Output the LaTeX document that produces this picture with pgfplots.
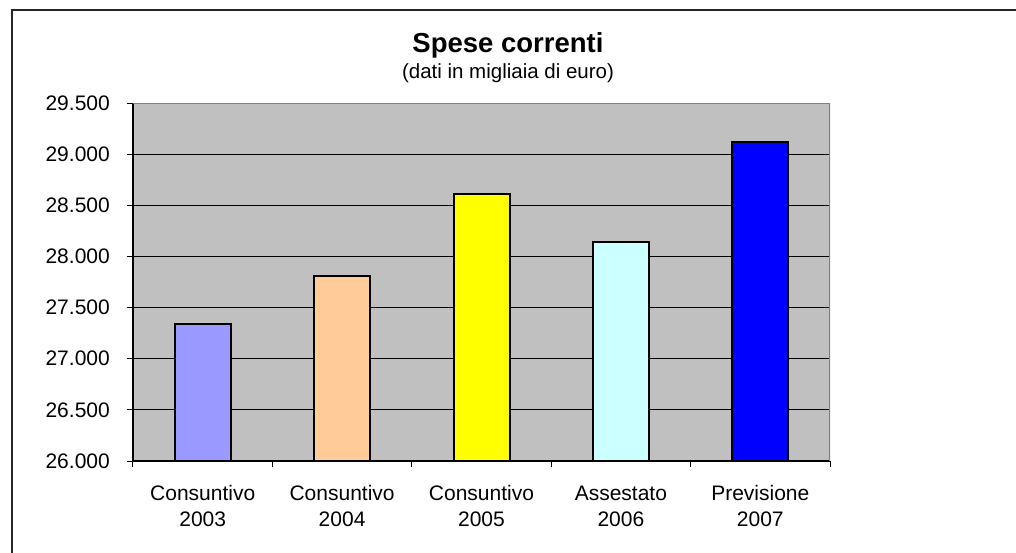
\documentclass[border=0pt]{standalone}
\usepackage{pgfplots}
\pgfplotsset{compat=1.18}
\usepackage{fontspec}
\setmainfont{Liberation Sans}
\definecolor{bgray}{RGB}{192,192,192}
\definecolor{bordergray}{RGB}{128,128,128}
\definecolor{barA}{RGB}{153,153,255}
\definecolor{barB}{RGB}{255,204,153}
\definecolor{barC}{RGB}{255,255,0}
\definecolor{barD}{RGB}{204,255,255}
\definecolor{barE}{RGB}{0,0,255}

\begin{document}
\begin{tikzpicture}
\path[use as bounding box] (-133pt,-91pt) rectangle (883pt,461pt);
\draw[line width=1.5pt, black!85] (-121pt,-95pt) -- (-121pt,451pt) -- (890pt,451pt);
\node[anchor=base, font=\fontsize{27.5}{31}\selectfont\bfseries] at (375pt,408pt) {Spese correnti};
\node[anchor=base, font=\fontsize{20.5}{24}\selectfont] at (375pt,382pt) {(dati in migliaia di euro)};
\begin{axis}[
  at={(0pt,0pt)}, anchor=origin,
  scale only axis,
  width=697pt, height=358pt,
  xmin=0.5, xmax=5.5,
  ymin=26000, ymax=29500,
  ybar, bar width=56pt, bar shift=0pt,
  axis x line*=bottom, axis y line*=left,
  axis line style={black, line width=1.2pt, -},
  axis background/.style={fill=bgray},
  ytick={26000,26500,...,29500},
  scaled y ticks=false,
  yticklabel={\pgfmathprintnumber[fixed, precision=0, 1000 sep={.}, assume math mode=true]{\tick}},
  xtick={0.5,1.5,...,5.5},
  xticklabels={},
  extra x ticks={1,2,3,4,5},
  extra x tick labels={{\strut Consuntivo\\\strut 2003},{\strut Consuntivo\\\strut 2004},{\strut Consuntivo\\\strut 2005},{\strut Assestato\\\strut 2006},{\strut Previsione\\\strut 2007}},
  extra x tick style={major tick length=0pt, grid=none,
    xticklabel style={align=center, anchor=north, inner sep=0pt, yshift=-21pt,
      font=\fontsize{21}{26}\selectfont}},
  tick align=outside,
  major tick length=6pt,
  tick style={black, line width=1pt},
  ymajorgrids,
  major grid style={black, line width=1pt},
  yticklabel style={anchor=east, inner sep=0pt, xshift=-17pt, font=\fontsize{21}{25}\selectfont},
]
\addplot[fill=barA, draw=black, line width=2pt] coordinates {(1,27340)};
\addplot[fill=barB, draw=black, line width=2pt] coordinates {(2,27810)};
\addplot[fill=barC, draw=black, line width=2pt] coordinates {(3,28610)};
\addplot[fill=barD, draw=black, line width=2pt] coordinates {(4,28145)};
\addplot[fill=barE, draw=black, line width=2pt] coordinates {(5,29115)};
\draw[bordergray, line width=2pt] (rel axis cs:0,1) -- (rel axis cs:1,1) -- (rel axis cs:1,0);
\end{axis}
\end{tikzpicture}
\end{document}
